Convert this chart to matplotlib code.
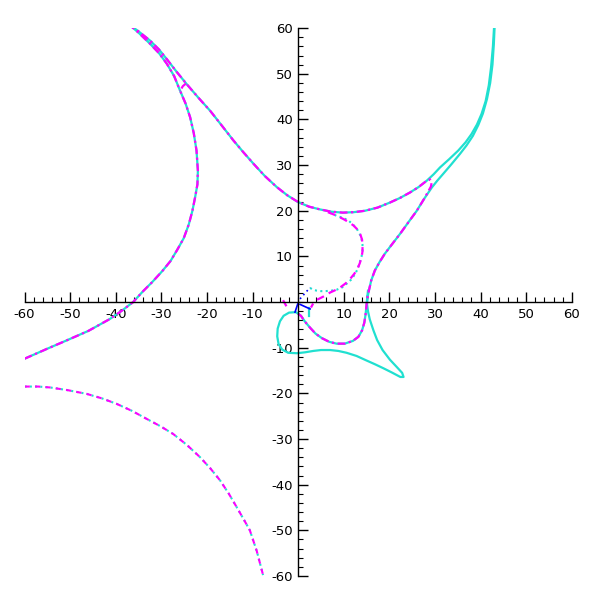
import matplotlib
matplotlib.use("Agg")
import matplotlib.pyplot as plt

plt.rcParams['axes.unicode_minus'] = False
plt.rcParams['font.family'] = ['DejaVu Sans']

CYAN = '#20e0d0'
MAG = '#ff00ff'
BLUE = '#0000ff'

# Upper hyperbola-like branch (cyan solid, extends to top right)
upper_x = [-37.3, -35.0, -32.5, -30.5, -28.8, -26.7, -24.5, -22.0, -19.3, -16.7, -14.2, -12.0, -9.8, -7.3, -4.7, -2.4, 0.0, 2.4, 4.8, 7.3, 9.8, 12.2, 14.6, 17.4, 20.1, 22.3, 24.5, 26.4, 28.2, 29.7, 31.1, 33.1, 35.1, 36.7, 38.0, 39.2, 40.2, 41.1, 41.8, 42.3, 42.7, 43.0]
upper_y = [61.0, 59.3, 57.3, 55.3, 53.2, 50.5, 47.8, 44.9, 41.9, 38.6, 35.4, 32.8, 30.3, 27.6, 25.2, 23.4, 21.9, 20.9, 20.3, 19.8, 19.6, 19.7, 20.0, 20.7, 21.8, 22.8, 24.0, 25.2, 26.6, 28.0, 29.5, 31.3, 33.2, 35.0, 36.8, 38.9, 41.2, 44.0, 47.5, 51.5, 56.0, 61.0]

# Left branch (cyan solid)
left_x = [-37.3, -35.0, -32.5, -30.5, -28.8, -27.2, -25.9, -24.7, -23.7, -22.9, -22.3, -22.0, -22.1, -22.6, -23.2, -24.0, -25.1, -26.5, -28.0, -29.8, -32.0, -34.2, -36.2, -38.7, -41.3, -46.0, -50.8, -55.0, -60.0]
left_y = [61.0, 59.0, 56.6, 54.5, 52.2, 49.5, 46.3, 43.5, 40.5, 37.0, 33.2, 28.8, 25.8, 23.0, 20.0, 17.0, 14.0, 11.5, 9.0, 6.8, 4.4, 2.2, 0.0, -1.9, -3.7, -6.3, -8.4, -10.2, -12.4]

# Right branch with cusp and lower loop (cyan solid)
right_x = [43.1, 42.9, 42.6, 42.1, 41.4, 40.5, 39.5, 38.3, 36.9, 35.5, 33.6, 31.8, 30.5, 29.3, 27.6, 26.0, 24.1, 22.3, 20.6, 19.0, 17.8, 16.8, 16.0, 15.5, 15.2, 15.1,
           15.3, 15.7, 16.5, 17.3, 18.5, 20.1, 21.6, 22.8, 23.1, 22.4, 20.5, 18.7, 16.8, 15.0, 12.8, 10.6, 8.8, 7.0, 5.0, 3.3, 1.5, -0.3, -2.2, -3.5, -4.3, -4.6, -4.5, -4.0, -3.2, -2.0, -0.5,
           0.6, 1.5, 2.6, 3.8, 5.2, 6.8, 8.4, 10.2, 12.0, 13.2, 14.0, 14.5, 14.8, 15.0, 15.3]
right_y = [61.0, 56.5, 52.0, 48.0, 44.5, 41.3, 38.8, 36.4, 34.3, 32.5, 30.2, 28.1, 26.6, 25.1, 22.6, 20.0, 17.4, 14.9, 12.7, 10.6, 8.7, 6.9, 4.7, 2.5, 1.0, -0.5,
           -2.0, -3.8, -6.2, -8.3, -10.5, -12.6, -14.2, -15.5, -16.4, -16.4, -15.4, -14.5, -13.6, -12.8, -11.8, -11.1, -10.7, -10.5, -10.5, -10.7, -11.0, -11.2, -11.1, -10.4, -9.2, -7.5, -5.8, -4.2, -3.0, -2.3, -2.2,
           -3.0, -4.3, -5.6, -6.9, -7.9, -8.7, -9.1, -9.1, -8.5, -7.6, -6.2, -4.5, -2.5, -0.4, 2.5]

# Magenta dash-dot curve: along upper branch, hook, down the right branch, inner lobe
mag_main_x = [-37.3, -35.0, -32.5, -30.5, -28.8, -26.7, -24.5, -22.0, -19.3, -16.7, -14.2, -12.0, -9.8, -7.3, -4.7, -2.4, 0.0, 2.4, 4.8, 7.3, 9.8, 12.2, 14.6, 17.4, 20.1, 22.3, 24.5, 26.4, 28.2, 28.9, 29.3, 29.1,
              27.6, 26.0, 24.1, 22.3, 20.6, 19.0, 17.8, 16.8, 16.0, 15.5, 15.2, 15.0, 14.8, 14.5, 14.0, 13.2, 12.0, 10.2, 8.4, 6.8, 5.2, 3.8, 2.6, 1.5, 0.6, -0.5]
mag_main_y = [61.0, 59.3, 57.3, 55.3, 53.2, 50.5, 47.8, 44.9, 41.9, 38.6, 35.4, 32.8, 30.3, 27.6, 25.2, 23.4, 21.9, 20.9, 20.3, 19.8, 19.6, 19.7, 20.0, 20.7, 21.8, 22.8, 24.0, 25.2, 26.6, 26.9, 26.3, 25.3,
              22.6, 20.0, 17.4, 14.9, 12.7, 10.6, 8.7, 6.9, 4.7, 2.5, 1.0, -0.4, -2.5, -4.5, -6.2, -7.6, -8.5, -9.1, -9.1, -8.7, -7.9, -6.9, -5.6, -4.3, -3.0, -2.2]

# Magenta along left branch with small hook
mag_left_x = [-60.0, -55.0, -50.8, -46.0, -41.3, -38.7, -36.2, -34.2, -32.0, -29.8, -28.0, -26.5, -25.1, -24.0, -23.2, -22.6, -22.1, -22.0, -22.3, -22.9, -23.7, -24.7, -25.9, -25.3, -24.6]
mag_left_y = [-12.4, -10.2, -8.4, -6.3, -3.7, -1.9, 0.0, 2.2, 4.4, 6.8, 9.0, 11.5, 14.0, 17.0, 20.0, 23.0, 25.8, 28.8, 33.2, 37.0, 40.5, 43.5, 46.3, 47.3, 47.9]
mag_top_x = [-37.3, -35.0, -32.5, -30.5, -28.8, -27.2, -25.9]
mag_top_y = [61.0, 59.0, 56.6, 54.5, 52.2, 49.5, 46.3]

# Bottom-left arc (magenta dashes + cyan dots)
arc_x = [-60.0, -57.0, -54.4, -50.5, -46.4, -43.0, -39.8, -36.5, -33.2, -30.2, -27.4, -24.4, -21.5, -19.2, -17.1, -15.2, -13.5, -12.0, -10.6, -9.1, -7.7]
arc_y = [-18.5, -18.5, -18.7, -19.3, -20.1, -21.1, -22.3, -23.8, -25.6, -27.2, -28.9, -31.3, -34.0, -36.5, -39.1, -42.0, -44.9, -47.5, -50.0, -54.5, -59.8]

# Inner loop (magenta dash-dot)
inner_m_x = [6.5, 8.3, 9.9, 11.1, 12.1, 13.0, 13.6, 14.0, 14.1, 14.1, 13.9, 13.5, 13.0, 12.3, 11.4, 10.4, 9.2, 8.1, 7.0, 5.5, 4.3, 3.5, 2.8]
inner_m_y = [19.7, 19.0, 18.2, 17.5, 16.8, 15.9, 14.9, 13.7, 12.4, 11.1, 9.8, 8.5, 7.3, 6.2, 5.1, 4.1, 3.2, 2.6, 2.1, 1.2, 0.6, 0.1, -1.2]

# Inner loop (cyan dotted)
inner_c_x = [2.6, 3.3, 4.1, 5.0, 5.9, 7.2, 8.4, 9.6, 10.6, 11.7, 12.5, 13.1, 13.5, 13.9, 14.1, 14.1, 13.9, 13.5, 13.0, 12.1, 11.0, 9.7, 8.4, 6.5]
inner_c_y = [3.1, 2.7, 2.5, 2.4, 2.4, 2.5, 2.7, 3.2, 4.0, 5.0, 6.2, 7.4, 8.7, 10.0, 11.3, 12.6, 13.8, 14.9, 15.8, 16.9, 17.9, 18.5, 18.9, 19.8]

# Small segments near the origin
blue_dot_x = [0.4, 2.6]
blue_dot_y = [0.7, 3.2]
blue_a_x = [-0.1, -0.7]
blue_a_y = [-0.4, -2.2]
blue_b_x = [0.4, 2.6]
blue_b_y = [-0.5, -1.5]
cyan_stub_x = [2.4, 2.4]
cyan_stub_y = [-1.3, -3.0]
mag_stub_x = [-3.2, -2.7]
mag_stub_y = [0.2, -0.7]

ticks = [-60, -50, -40, -30, -20, -10, 10, 20, 30, 40, 50, 60]
tick_labels = ['-60', '-50', '-40', '-30', '-20', '-10', '10', '20', '30', '40', '50', '60']

fig = plt.figure(figsize=(6, 6), dpi=100)
ax = fig.add_axes([0.041, 0.04, 0.912, 0.913])
lw = 1.6

ax.plot(upper_x, upper_y, color=CYAN, lw=lw)
ax.plot(left_x, left_y, color=CYAN, lw=lw)
ax.plot(right_x, right_y, color=CYAN, lw=lw)
ax.plot(arc_x, arc_y, color=CYAN, lw=1.5, linestyle=(0, (1, 1.5)))
ax.plot(inner_c_x, inner_c_y, color=CYAN, lw=1.5, linestyle=(0, (1, 1.6)))
ax.plot(cyan_stub_x, cyan_stub_y, color=CYAN, lw=lw)

mstyle = (0, (3.5, 1.6, 1, 1.6))
ax.plot(mag_main_x, mag_main_y, color=MAG, lw=lw, linestyle=mstyle)
ax.plot(mag_left_x, mag_left_y, color=MAG, lw=lw, linestyle=mstyle)
ax.plot(mag_top_x, mag_top_y, color=MAG, lw=lw, linestyle=mstyle)
ax.plot(arc_x, arc_y, color=MAG, lw=1.5, linestyle=(0, (2.5, 2.5)))
ax.plot(inner_m_x, inner_m_y, color=MAG, lw=lw, linestyle=(0, (3.5, 2.5)))
ax.plot(mag_stub_x, mag_stub_y, color=MAG, lw=lw)

ax.plot(blue_dot_x, blue_dot_y, color=BLUE, lw=1.2, linestyle=(0, (1, 2)))
ax.plot(blue_a_x, blue_a_y, color=BLUE, lw=1.2)
ax.plot(blue_b_x, blue_b_y, color=BLUE, lw=1.2)

ax.set_xlim(-60, 60)
ax.set_ylim(-60, 60)

for s in ['top', 'right']:
    ax.spines[s].set_visible(False)
ax.spines['left'].set_position(('data', 0))
ax.spines['bottom'].set_position(('data', 0))
ax.spines['left'].set_linewidth(1.0)
ax.spines['bottom'].set_linewidth(1.0)

ax.set_xticks(ticks)
ax.set_xticklabels(tick_labels)
ax.set_yticks(ticks)
ax.set_yticklabels(tick_labels)
ax.set_xticks(range(-60, 61, 2), minor=True)
ax.set_yticks(range(-60, 61, 2), minor=True)
ax.tick_params(which='major', direction='in', length=7, width=1, labelsize=9.5, pad=4)
ax.tick_params(which='minor', direction='in', length=3.5, width=0.8)
ax.patch.set_visible(False)

fig.savefig('out.png', dpi=100)
